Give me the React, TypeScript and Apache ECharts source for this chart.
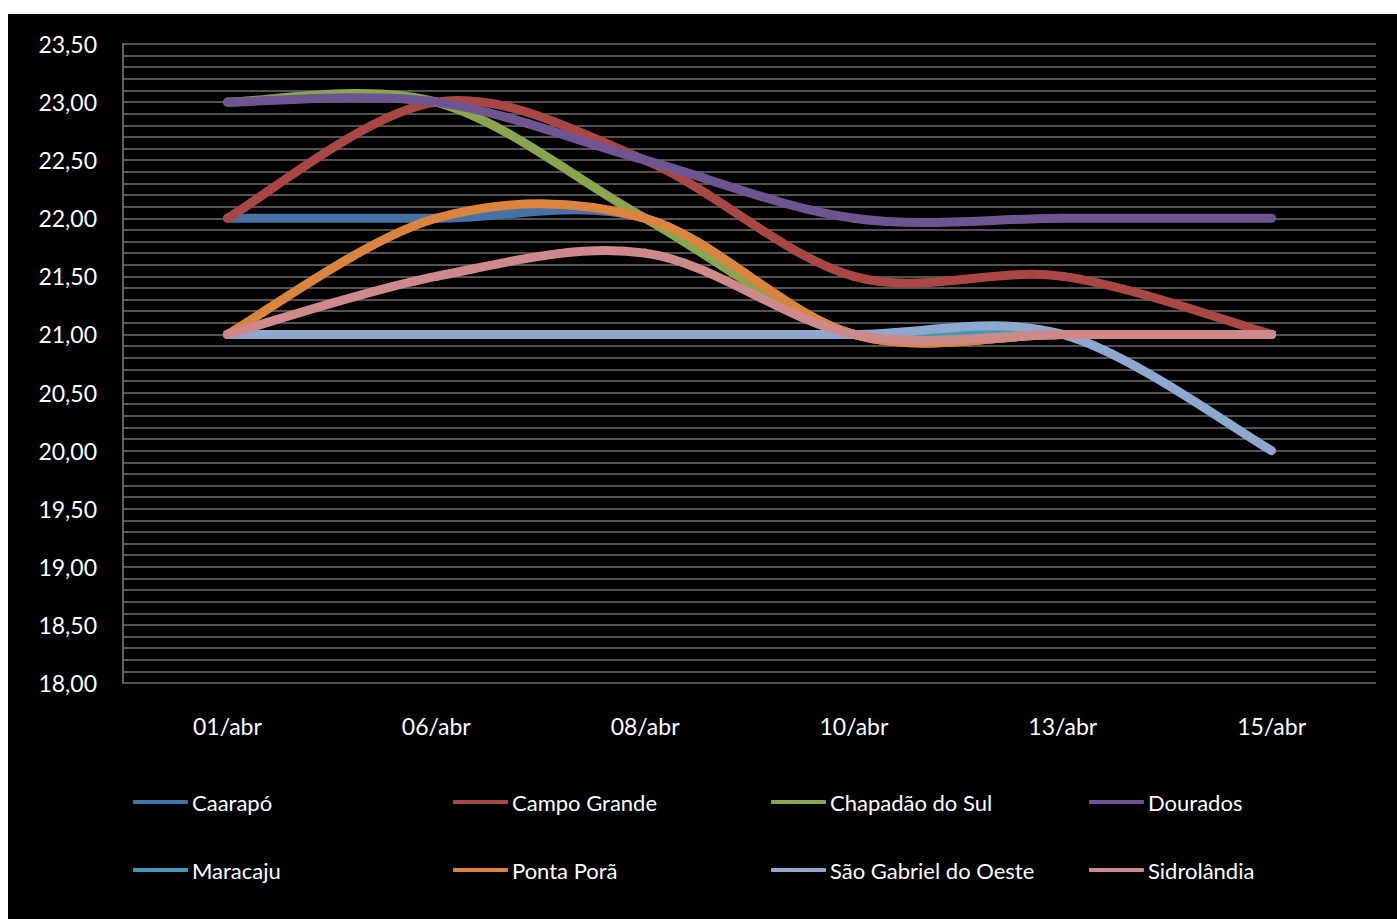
import React, { useEffect, useRef } from "react";
import * as echarts from "echarts";

const categories = ["01/abr", "06/abr", "08/abr", "10/abr", "13/abr", "15/abr"];
const seriesNames = [
  "Caarapó",
  "Campo Grande",
  "Chapadão do Sul",
  "Dourados",
  "Maracaju",
  "Ponta Porã",
  "São Gabriel do Oeste",
  "Sidrolândia",
];
const caarapo = [22, 22, 22, 21, 21, 21];
const campoGrande = [22, 23, 22.5, 21.5, 21.5, 21];
const chapadao = [23, 23, 22, 21, 21, 21];
const dourados = [23, 23, 22.5, 22, 22, 22];
const maracaju = [21, 21, 21, 21, 21, 21];
const pontaPora = [21, 22, 22, 21, 21, 21];
const saoGabriel = [21, 21, 21, 21, 21, 20];
const sidrolandia = [21, 21.5, 21.7, 21, 21, 21];
const seriesValues = [caarapo, campoGrande, chapadao, dourados, maracaju, pontaPora, saoGabriel, sidrolandia];
const colors = ["#4572A7", "#AA4643", "#89A54E", "#6E5591", "#3F9AB2", "#DB843D", "#8FA8CF", "#CE8A8A"];

const FONT = "Lato, 'Open Sans', sans-serif";

function makeRenderItem(vals: number[], color: string) {
  return (params: any, api: any) => {
    const i = params.dataIndex;
    const n = vals.length;
    if (i >= n - 1) return null;
    const pt = (k: number) => {
      const kk = Math.max(0, Math.min(n - 1, k));
      return api.coord([kk, vals[kk]]);
    };
    const p0 = pt(i - 1);
    const p1 = pt(i);
    const p2 = pt(i + 1);
    const p3 = pt(i + 2);
    const t = 1 / 6;
    return {
      type: "bezierCurve",
      shape: {
        x1: p1[0],
        y1: p1[1],
        x2: p2[0],
        y2: p2[1],
        cpx1: p1[0] + (p2[0] - p0[0]) * t,
        cpy1: p1[1] + (p2[1] - p0[1]) * t,
        cpx2: p2[0] - (p3[0] - p1[0]) * t,
        cpy2: p2[1] - (p3[1] - p1[1]) * t,
      },
      style: { stroke: color, lineWidth: 9, lineCap: "round", fill: "none" },
    };
  };
}

export default function App() {
  const ref = useRef<HTMLDivElement>(null);
  useEffect(() => {
    if (!ref.current) return;
    const chart = echarts.init(ref.current, null, { renderer: "svg" });
    const legendX = [125, 445, 763, 1081];
    const legendY = [775, 843];
    chart.setOption({
      animation: false,
      backgroundColor: "#000000",
      color: colors,
      grid: { left: 115, top: 30, right: 21, bottom: 236, containLabel: false },
      legend: seriesNames.map((n, i) => ({
        data: [n],
        left: legendX[i % 4],
        top: legendY[Math.floor(i / 4)],
        padding: 0,
        icon: "roundRect",
        itemWidth: 55,
        itemHeight: 4,
        selectedMode: false,
        textStyle: { color: "#ffffff", fontSize: 22, fontFamily: FONT, lineHeight: 26, padding: [0, 0, 0, -1] },
      })),
      xAxis: {
        type: "category",
        data: categories,
        boundaryGap: true,
        axisLine: { show: false },
        axisTick: { show: false },
        axisLabel: { color: "#ffffff", fontSize: 23, fontFamily: FONT, margin: 31 },
        splitLine: { show: false },
      },
      yAxis: {
        type: "value",
        min: 18,
        max: 23.5,
        interval: 0.5,
        axisLine: { show: true, lineStyle: { color: "#808080", width: 1.5 } },
        axisTick: { show: false },
        axisLabel: {
          color: "#ffffff",
          fontSize: 23,
          fontFamily: FONT,
          margin: 26,
          formatter: (v: number) => v.toFixed(2).replace(".", ","),
        },
        splitLine: { show: true, lineStyle: { color: "#6e6e6e", width: 1.5 } },
        minorTick: { show: false, splitNumber: 5 },
        minorSplitLine: { show: true, lineStyle: { color: "#6e6e6e", width: 1.5 } },
      },
      series: seriesNames.map((n, i) => ({
        name: n,
        type: "custom",
        coordinateSystem: "cartesian2d",
        data: seriesValues[i].map((v, k) => [k, v]),
        encode: { x: 0, y: 1 },
        clip: false,
        itemStyle: { color: colors[i] },
        renderItem: makeRenderItem(seriesValues[i], colors[i]),
      })),
    });
    return () => chart.dispose();
  }, []);
  return (
    <div
      ref={ref}
      style={{ position: "absolute", left: 8, top: 14, width: 1389, height: 905 }}
    />
  );
}
